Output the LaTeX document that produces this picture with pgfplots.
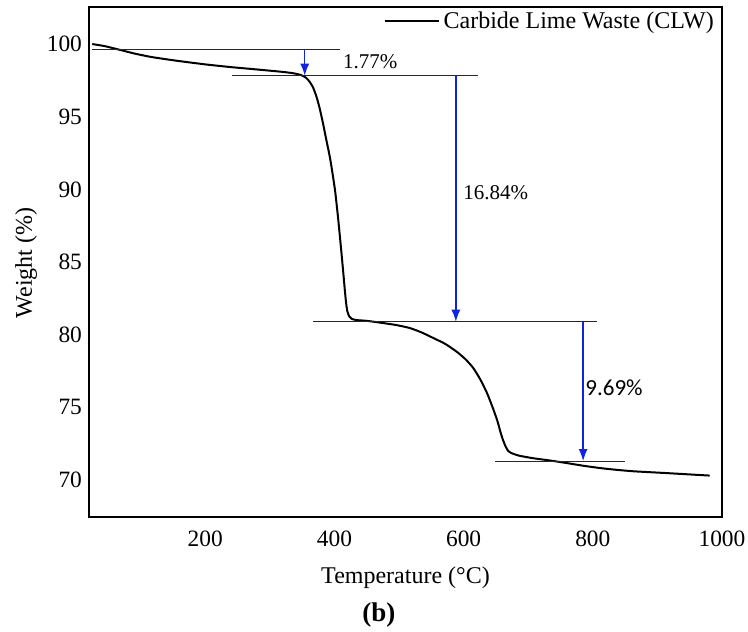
\documentclass[border=0pt]{standalone}
\usepackage{fontspec}
\setmainfont{Liberation Serif}
\newfontfamily\calibri{Carlito}
\usepackage{pgfplots}
\pgfplotsset{compat=1.18}
\usetikzlibrary{arrows.meta}
\definecolor{arrblue}{RGB}{15,35,225}
\begin{document}
\begin{tikzpicture}
\useasboundingbox (-44.5pt,-57pt) rectangle (329.5pt,258.5pt);
\begin{axis}[
  at={(0pt,0pt)}, anchor=south west,
  scale only axis, width=316.5pt, height=255pt,
  xmin=20, xmax=1000, ymin=67.45, ymax=102.55,
  xtick={200,400,600,800,1000}, ytick={70,75,80,85,90,95,100},
  major tick length=0pt,
  axis line style={line width=1.1pt},
  /pgf/number format/assume math mode=true,
  /pgf/number format/1000 sep={},
  tick label style={font=\fontsize{11.7}{14}\selectfont},
  x tick label style={anchor=center, yshift=-11pt},
  xlabel={Temperature (°C)},
  ylabel={Weight (\%)},
  label style={font=\fontsize{12}{14}\selectfont},
  x label style={at={(axis description cs:0.5,-0.1196)}, anchor=center},
  y label style={at={(axis description cs:-0.0995,0.498)}, anchor=center, rotate=0},
  clip=false,
  legend style={draw=none, fill=none, at={(axis description cs:0.994,1.0)}, anchor=north east, inner sep=0pt, font=\fontsize{12}{14}\selectfont},
  legend cell align=left,
  legend image code/.code={\draw[#1] (0pt,0pt) -- (27pt,0pt);},
]
\addplot[black, line width=1pt, smooth, tension=0.4] coordinates {
(25,100) (45,99.85) (68,99.6) (90,99.35) (115,99.12) (140,98.95) (161,98.82)
(200,98.6) (238,98.42) (280,98.25) (316,98.1) (335,98.0) (348,97.87) (356,97.68)
(362,97.38) (367,97.0) (372,96.4) (377,95.6) (382,94.6) (387,93.5) (393,92.2)
(397,91.1) (401,89.9) (405,88.3) (409,86.5) (413,84.6) (416,83.1) (418,82.2)
(420,81.6) (423,81.25) (427,81.08) (435,81.0) (450,80.95) (475,80.8) (497,80.65)
(517,80.45) (535,80.15) (553,79.77) (572,79.35) (590,78.8) (603,78.3) (615,77.7)
(626,76.9) (636,76.0) (644,75.1) (652,74.1) (657,73.3) (661,72.75) (665,72.3)
(669,72.0) (674,71.85) (685,71.68) (707,71.5) (735,71.33) (760,71.16) (785,70.98)
(811,70.82) (836,70.7) (862,70.6) (890,70.53) (915,70.47) (950,70.38) (981,70.3)
};
\addlegendentry{Carbide Lime Waste (CLW)}
% reference lines
\addplot[black!85, line width=0.5pt, forget plot] coordinates {(25,99.64) (409,99.64)};
\addplot[black!85, line width=0.5pt, forget plot] coordinates {(241,97.82) (622,97.82)};
\addplot[black!85, line width=0.5pt, forget plot] coordinates {(367,80.89) (806,80.89)};
\addplot[black!85, line width=0.5pt, forget plot] coordinates {(649,71.3) (850,71.3)};
% arrows
\addplot[arrblue, line width=0.7pt, -{Latex[length=6pt,width=4.5pt]}, forget plot] coordinates {(354,99.64) (354,97.82)};
\addplot[arrblue, line width=0.7pt, -{Latex[length=6pt,width=4.5pt]}, forget plot] coordinates {(588,97.82) (588,80.89)};
\addplot[arrblue, line width=0.7pt, -{Latex[length=6pt,width=4.5pt]}, forget plot] coordinates {(785,80.89) (785,71.3)};
% labels
\node[anchor=west, inner sep=0pt, font=\fontsize{10.5}{12}\selectfont] at (axis cs:413,98.76) {1.77\%};
\node[anchor=west, inner sep=0pt, font=\fontsize{10.5}{12}\selectfont] at (axis cs:599,89.75) {16.84\%};
\node[anchor=west, inner sep=0pt, font=\calibri\fontsize{11.5}{13}\selectfont] at (axis cs:788,76.32) {9.69\%};
\node[font=\bfseries\fontsize{13.5}{15}\selectfont] at (axis description cs:0.458,-0.192) {(b)};
\end{axis}
\end{tikzpicture}
\end{document}
